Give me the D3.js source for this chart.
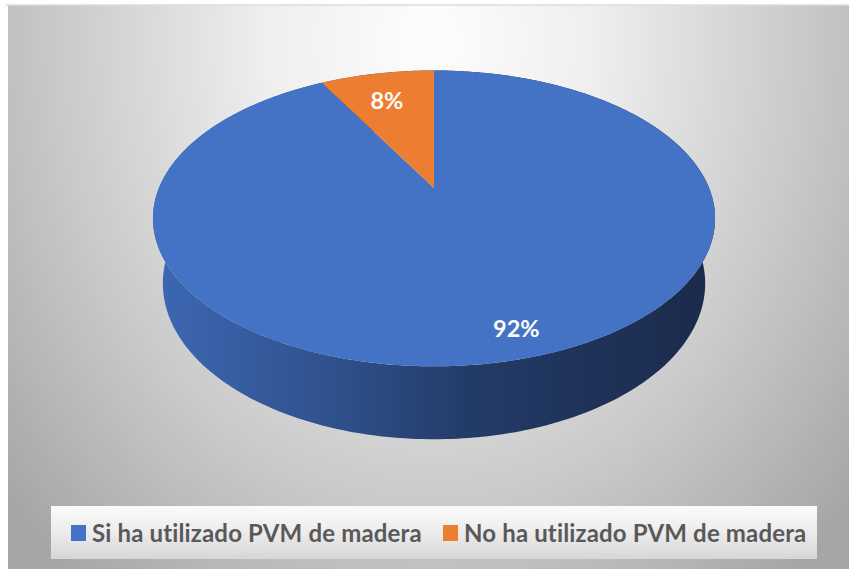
<!DOCTYPE html>
<html>
<head>
<meta charset="utf-8">
<script src="https://cdn.jsdelivr.net/npm/d3@7"></script>
<style>
  html, body { margin: 0; padding: 0; background: #fff; }
  svg { display: block; font-family: Lato, 'Noto Sans', sans-serif; }
</style>
</head>
<body>
<main></main>
<script>
const categories = ['Si ha utilizado PVM de madera', 'No ha utilizado PVM de madera'];
const values = [92, 8];
const labels = ['92%', '8%'];
const colors = ['#4472c4', '#ed7d31'];

const $main = d3.select('main');

const width = 849;
const height = 569;

// fake 3d: circle of radius 1 seen from above, with perspective
const view = { cx: 434, cy: 188, f: 1147, dist: 4.17, tilt: 31, depth: 0.283 };
// label placement (radius, angle nudge in degrees) like excel puts them
const labelR = [0.86, 0.73];
const labelNudge = [-2.4, -1.2];

function project(theta, r, h) {
  const s = Math.sin(view.tilt * Math.PI / 180);
  const c = Math.cos(view.tilt * Math.PI / 180);
  const u = r * Math.sin(theta);
  const v = r * Math.cos(theta);
  const z = view.dist + v * c - h * s;
  return [view.cx + view.f * u / z, view.cy - view.f * (v * s + h * c) / z];
}

function slicePath(d) {
  const n = Math.max(4, Math.ceil((d.endAngle - d.startAngle) / 0.01));
  const pts = [project(0, 0, 0)];
  for (let i = 0; i <= n; i++) {
    const t = d.startAngle + (d.endAngle - d.startAngle) * i / n;
    pts.push(project(t, 1, 0));
  }
  return 'M' + pts.map(p => p.join(',')).join('L') + 'Z';
}

function wallPath() {
  const n = 360;
  let path = '';
  for (let i = 0; i < n; i++) {
    const a = 2 * Math.PI * i / n;
    const b = 2 * Math.PI * (i + 1) / n;
    const q = [project(a, 1, 0), project(b, 1, 0), project(b, 1, -view.depth), project(a, 1, -view.depth)];
    path += 'M' + q.map(p => p.join(',')).join('L') + 'Z';
  }
  return path;
}

function setupChart() {
  const $svg = $main.append('svg')
    .attr('width', width)
    .attr('height', height);

  const $defs = $svg.append('defs');

  const bg = $defs.append('radialGradient')
    .attr('id', 'bg')
    .attr('gradientUnits', 'userSpaceOnUse')
    .attr('cx', 430).attr('cy', 40).attr('r', 560)
    .attr('gradientTransform', 'translate(430,40) scale(1,1.25) translate(-430,-40)');
  [[0, '#fdfdfd'], [0.3, '#eeeeee'], [0.7, '#c6c6c6'], [1, '#a6a6a6']].forEach(([o, c]) => {
    bg.append('stop').attr('offset', o).attr('stop-color', c);
  });

  const wall = $defs.append('linearGradient')
    .attr('id', 'wall')
    .attr('gradientUnits', 'userSpaceOnUse')
    .attr('x1', 152).attr('x2', 716).attr('y1', 0).attr('y2', 0);
  [[0, '#3d68b4'], [0.3, '#30538f'], [0.55, '#243c69'], [1, '#1a2a4a']].forEach(([o, c]) => {
    wall.append('stop').attr('offset', o).attr('stop-color', c);
  });

  const leg = $defs.append('linearGradient')
    .attr('id', 'leg')
    .attr('x1', 0).attr('x2', 0).attr('y1', 0).attr('y2', 1);
  [[0, '#fafafa'], [0.5, '#ececec'], [1, '#d6d6d6']].forEach(([o, c]) => {
    leg.append('stop').attr('offset', o).attr('stop-color', c);
  });

  // chart area
  $svg.append('rect')
    .attr('x', 8).attr('y', 5)
    .attr('width', width - 8).attr('height', height - 5)
    .attr('fill', 'url(#bg)');
  $svg.append('line')
    .attr('x1', 6).attr('x2', width).attr('y1', 5).attr('y2', 5)
    .attr('stroke', '#dcdcdc').attr('stroke-width', 1.5);

  const pie = d3.pie().sort(null).value(d => d);
  const arcs = pie(values);

  const $g = $svg.append('g').attr('class', 'g-pie');

  $g.append('path')
    .attr('d', wallPath())
    .attr('fill', 'url(#wall)');

  $g.selectAll('.slice')
    .data(arcs)
    .enter()
    .append('path')
    .attr('class', 'slice')
    .attr('d', slicePath)
    .attr('fill', (d, i) => colors[i]);

  $g.selectAll('.label')
    .data(arcs)
    .enter()
    .append('text')
    .attr('class', 'label')
    .attr('transform', (d, i) => {
      const mid = (d.startAngle + d.endAngle) / 2 + labelNudge[i] * Math.PI / 180;
      const [x, y] = project(mid, labelR[i], 0);
      return `translate(${x},${y})`;
    })
    .attr('text-anchor', 'middle')
    .attr('dy', '0.36em')
    .attr('fill', '#fff')
    .attr('font-weight', 700)
    .attr('font-size', 23.5)
    .text((d, i) => labels[i]);

  // legend
  const $legend = $svg.append('g').attr('class', 'g-legend');
  $legend.append('rect')
    .attr('x', 51).attr('y', 506)
    .attr('width', 766).attr('height', 53)
    .attr('fill', 'url(#leg)');

  const legendX = [71, 443];
  const $item = $legend.selectAll('.item')
    .data(categories)
    .enter()
    .append('g')
    .attr('class', 'item')
    .attr('transform', (d, i) => `translate(${legendX[i]}, 533)`);

  $item.append('rect')
    .attr('x', 0).attr('y', -8)
    .attr('width', 15).attr('height', 16)
    .attr('fill', (d, i) => colors[i]);

  $item.append('text')
    .attr('x', 21)
    .attr('dy', '0.36em')
    .attr('fill', '#595959')
    .attr('font-weight', 700)
    .attr('font-size', 24)
    .attr('letter-spacing', 0.15)
    .text(d => d);
}

setupChart();
</script>
</body>
</html>
